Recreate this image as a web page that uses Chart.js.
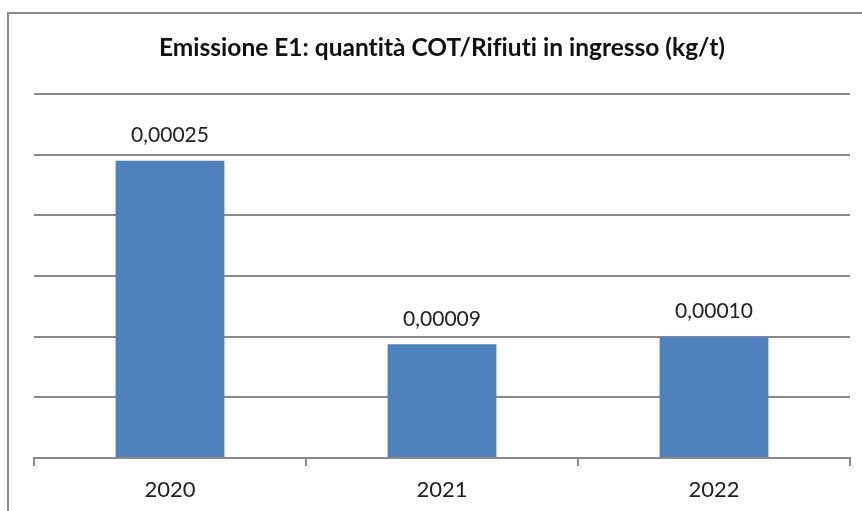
<!DOCTYPE html>
<html>
<head>
<meta charset="utf-8">
<script src="https://cdn.jsdelivr.net/npm/chart.js@4/dist/chart.umd.min.js"></script>
<style>
  html, body { margin: 0; padding: 0; background: #fff; overflow: hidden; }
  #wrap { position: absolute; left: 0; top: 0; width: 862px; height: 511px; }
  canvas { font-variant-ligatures: none; }
</style>
</head>
<body>
<div id="wrap"><canvas id="c" width="862" height="511"></canvas></div>
<script>
const titleText = "Emissione E1: quantità COT/Rifiuti in ingresso (kg/t)";
const categories = ["2020", "2021", "2022"];
const values = [0.000245, 0.0000937, 0.0001];
const valueLabels = ["0,00025", "0,00009", "0,00010"];
const yMin = 0;
const yMax = 0.0003;
const yStep = 0.00005;

const FONT = "Lato, 'Open Sans', 'Liberation Sans', sans-serif";

const framePlugin = {
  id: 'frame',
  beforeDraw(chart) {
    const ctx = chart.ctx;
    if ('textRendering' in ctx) { ctx.textRendering = 'optimizeSpeed'; }
    ctx.save();
    ctx.fillStyle = '#ffffff';
    ctx.fillRect(0, 0, chart.width, chart.height);
    ctx.strokeStyle = '#8a8a8a';
    ctx.lineWidth = 2;
    ctx.beginPath();
    ctx.moveTo(8, chart.height + 5);
    ctx.lineTo(8, 13);
    ctx.lineTo(chart.width + 5, 13);
    ctx.stroke();
    ctx.restore();
  }
};

const labelPlugin = {
  id: 'valueLabels',
  afterDatasetsDraw(chart) {
    const ctx = chart.ctx;
    const meta = chart.getDatasetMeta(0);
    ctx.save();
    ctx.font = "21px " + FONT;
    ctx.fillStyle = '#222222';
    ctx.textAlign = 'center';
    ctx.textBaseline = 'middle';
    meta.data.forEach((bar, i) => {
      ctx.fillText(valueLabels[i], bar.x, bar.y - 25);
    });
    ctx.restore();
  }
};

new Chart(document.getElementById('c'), {
  type: 'bar',
  data: {
    labels: categories,
    datasets: [{
      data: values,
      backgroundColor: '#4F81BD',
      borderWidth: 0,
      barPercentage: 0.4,
      categoryPercentage: 1.0
    }]
  },
  options: {
    responsive: false,
    animation: false,
    layout: { padding: { left: 34, right: 12, top: 0, bottom: 7 } },
    plugins: {
      legend: { display: false },
      tooltip: { enabled: false },
      title: {
        display: true,
        text: titleText,
        color: '#111111',
        font: { family: FONT, size: 24.5, weight: 'bold', lineHeight: 1.2 },
        padding: { top: 33.3, bottom: 31.3 }
      }
    },
    scales: {
      x: {
        afterFit(scale) { scale.height = 46; },
        grid: {
          display: true,
          offset: true,
          drawOnChartArea: false,
          drawTicks: true,
          tickLength: 8,
          color: '#8a8a8a',
          lineWidth: 2
        },
        border: { display: true, color: '#8a8a8a', width: 2 },
        ticks: {
          color: '#222222',
          font: { family: FONT, size: 22, lineHeight: 1.2 },
          padding: 10.8
        }
      },
      y: {
        min: yMin,
        max: yMax,
        ticks: { display: false, stepSize: yStep },
        grid: {
          display: true,
          drawTicks: false,
          color: '#8a8a8a',
          lineWidth: 2
        },
        border: { display: false }
      }
    }
  },
  plugins: [framePlugin, labelPlugin]
});
</script>
</body>
</html>
